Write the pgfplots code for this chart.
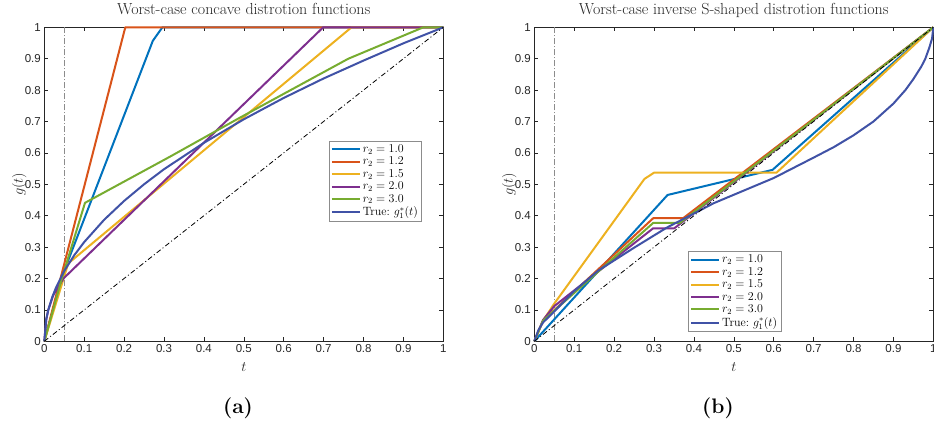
\documentclass[border=0pt]{standalone}
\usepackage{fontspec}
\usepackage{pgfplots}
\pgfplotsset{compat=1.18}
\newfontfamily\tickfont{Liberation Sans}
\definecolor{c1}{rgb}{0,0.447,0.741}
\definecolor{c2}{rgb}{0.85,0.325,0.098}
\definecolor{c3}{rgb}{0.929,0.694,0.125}
\definecolor{c4}{rgb}{0.494,0.184,0.556}
\definecolor{c5}{rgb}{0.466,0.674,0.188}
\definecolor{c6}{rgb}{0.25,0.32,0.65}
\definecolor{axgray}{rgb}{0.15,0.15,0.15}
\pgfplotsset{
  mystyle/.style={
    scale only axis, width=399pt, height=314pt,
    xmin=0, xmax=1, ymin=0, ymax=1, clip=false,
    xtick={0,0.1,0.2,0.3,0.4,0.5,0.6,0.7,0.8,0.9,1},
    ytick={0,0.1,0.2,0.3,0.4,0.5,0.6,0.7,0.8,0.9,1},
    tick align=inside, major tick length=4pt,
    axis line style={draw=axgray, line width=0.6pt},
    every tick/.style={axgray, line width=0.6pt},
    ticklabel style={font=\tickfont\fontsize{11.5}{13}\selectfont, text=axgray},
    /pgf/number format/assume math mode=true,
    xlabel={$t$}, ylabel={$g(t)$},
    label style={font=\fontsize{15}{17}\selectfont, text=axgray},
    xlabel style={at={(axis description cs:0.5,-0.097)}, anchor=base},
    ylabel style={at={(axis description cs:-0.0627,0.5)}, anchor=center},
    title style={font=\fontsize{16}{18}\selectfont, text=axgray, at={(axis description cs:0.5,1.023)}, anchor=base},
    legend style={font=\fontsize{12}{14}\selectfont, draw=black!45, line width=0.5pt, inner sep=1.5pt, row sep=-0.8pt},
    legend cell align=left,
    legend image code/.code={\draw[#1, line width=2pt] (0pt,0pt) -- (28pt,0pt);},
    every axis plot/.append style={line width=2pt, line join=round},
  },
  dd/.style={black, line width=0.8pt, dash pattern=on 5pt off 2.5pt on 1pt off 2.5pt, forget plot},
  vd/.style={black!45, line width=0.7pt, dash pattern=on 6pt off 2pt on 1pt off 2pt, forget plot},
}
\begin{document}
\begin{tikzpicture}
\path[use as bounding box] (-44.3pt,-84.7pt) rectangle (889.7pt,341.3pt);
\begin{axis}[mystyle, title={Worst-case concave distrotion functions},
  legend style={at={(0.946,0.638)}, anchor=north east}]
\addplot[vd] coordinates {(0.05,0) (0.05,1)};
\addplot[c1] coordinates {(0,0) (0.044,0.205) (0.272,0.957) (0.296,1) (1,1)};
\addplot[c2] coordinates {(0,0) (0.203,1) (1,1)};
\addplot[c3] coordinates {(0,0) (0.06,0.248) (0.77,1) (1,1)};
\addplot[c4] coordinates {(0,0) (0.005,0.07) (0.01,0.1) (0.0226,0.147) (0.048,0.2) (0.699,1) (1,1)};
\addplot[c5] coordinates {(0,0) (0.044,0.2) (0.102,0.441) (0.315,0.588) (0.49,0.712) (0.762,0.9) (0.95,1) (1,1)};
\addplot[c6] coordinates {(0,0) (0.005,0.071) (0.01,0.1) (0.02,0.141) (0.03,0.173) (0.05,0.224) (0.075,0.274) (0.1,0.316) (0.15,0.387) (0.2,0.447) (0.25,0.5) (0.3,0.548) (0.4,0.632) (0.5,0.707) (0.6,0.775) (0.7,0.837) (0.8,0.894) (0.9,0.949) (1,1)};
\addplot[dd] coordinates {(0,0) (1,1)};
\legend{$r_2=1.0$, $r_2=1.2$, $r_2=1.5$, $r_2=2.0$, $r_2=3.0$, {True:~$g_1^*(t)$}}
\end{axis}
\begin{axis}[mystyle, xshift=490pt, title={Worst-case inverse S-shaped distrotion functions},
  legend style={at={(0.386,0.031)}, anchor=south west}]
\addplot[vd] coordinates {(0.05,0) (0.05,1)};
\addplot[c1] coordinates {(0,0) (0.334,0.466) (0.597,0.546) (1,1)};
\addplot[c2] coordinates {(0,0) (0.022,0.066) (0.298,0.392) (0.373,0.392) (1,1)};
\addplot[c3] coordinates {(0,0) (0.022,0.066) (0.05,0.12) (0.276,0.517) (0.3,0.537) (0.607,0.537) (1,1)};
\addplot[c4] coordinates {(0,0) (0.022,0.068) (0.05,0.112) (0.298,0.36) (0.351,0.36) (1,1)};
\addplot[c5] coordinates {(0,0) (0.022,0.066) (0.298,0.377) (0.365,0.377) (1,1)};
\addplot[c6] coordinates {(0,0) (0.01,0.035) (0.022,0.06) (0.05,0.095) (0.1,0.16) (0.16,0.225) (0.25,0.298) (0.332,0.362) (0.45,0.44) (0.6,0.52) (0.7,0.585) (0.75,0.618) (0.8,0.656) (0.85,0.7) (0.9,0.757) (0.93,0.8) (0.95,0.835) (0.97,0.875) (0.98,0.9) (0.99,0.935) (0.997,0.965) (1,1)};
\addplot[dd] coordinates {(0,0) (1,1)};
\legend{$r_2=1.0$, $r_2=1.2$, $r_2=1.5$, $r_2=2.0$, $r_2=3.0$, {True:~$g_1^*(t)$}}
\end{axis}
\node[font=\bfseries\fontsize{21}{24}\selectfont] at (193.7pt,-66.7pt) {(a)};
\node[font=\bfseries\fontsize{21}{24}\selectfont] at (673.7pt,-66.7pt) {(b)};
\end{tikzpicture}
\end{document}
